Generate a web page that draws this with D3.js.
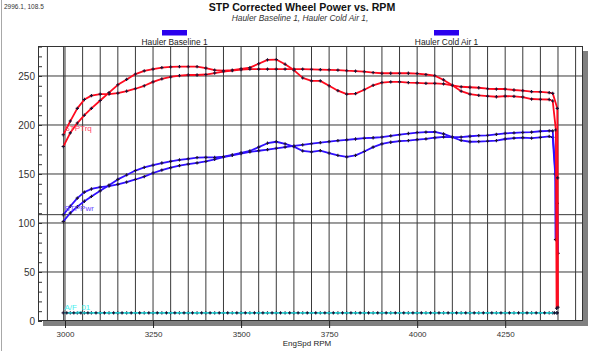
<!DOCTYPE html>
<html>
<head>
<meta charset="utf-8">
<script src="https://cdn.jsdelivr.net/npm/d3@7"></script>
<style>
  body { margin: 0; background: #fff; }
  svg { display: block; font-family: Arial, "Liberation Sans", sans-serif; }
  .grid line { stroke: #3a3a3a; stroke-width: 1; }
  .axis path { display: none; }
  .axis text { fill: #333; }
</style>
</head>
<body>
<script>
var w = 602;
var h = 351;

// engine speed of each logged sample (both runs)
var rpm = [2995, 3015, 3035, 3055, 3075,
  3100, 3125, 3150, 3175, 3200, 3225, 3250, 3275, 3300, 3325, 3350, 3375,
  3400, 3425, 3450, 3475, 3500, 3525, 3550, 3575, 3600, 3625, 3650, 3675,
  3700, 3725, 3750, 3775, 3800, 3825, 3850, 3875, 3900, 3925, 3950, 3975,
  4000, 4025, 4050, 4075, 4100, 4125, 4150, 4175, 4200, 4225, 4250, 4275,
  4300, 4325, 4350, 4375, 4385];

// Hauler Baseline 1
var trqA = [190, 204, 217, 226, 230,
  231.5, 231.5, 232.5, 234.5, 237, 240, 244, 247, 249, 250.3, 251, 251,
  251.5, 253, 254.5, 255.5, 256.5, 257, 257, 257, 257, 257, 257, 257,
  256.8, 256.5, 256.3, 256, 255.4, 255, 254.4, 253.5, 252.8, 252.8, 252.8, 252.8,
  252.5, 251.5, 250.3, 246, 240.5, 234.5, 231.5, 230.3, 229.5, 228.8, 229.5, 229.2,
  228.5, 226.5, 226.2, 226, 224.5];
var pwrA = [108.4, 117.1, 125.4, 131.5, 134.7,
  136.6, 137.7, 139.4, 141.8, 144.4, 147.4, 151.0, 154.0, 156.5, 158.5, 160.1, 161.3,
  162.8, 165.0, 167.2, 169.1, 170.9, 172.5, 173.7, 174.9, 176.2, 177.4, 178.6, 179.8,
  180.9, 181.9, 183.0, 184.0, 184.8, 185.7, 186.5, 187.0, 187.7, 188.9, 190.1, 191.3,
  192.3, 192.7, 193.0, 190.9, 187.7, 184.2, 182.9, 183.1, 183.5, 184.1, 185.7, 186.6,
  187.1, 186.5, 187.4, 188.3, 187.4];

// Hauler Cold Air 1
var trqB = [178, 192, 202, 210, 217,
  225, 233, 241, 246.5, 252, 255.2, 257, 258.5, 259.2, 259.5, 259.5, 259.5,
  258, 256, 255.4, 256, 257.3, 258.5, 262.5, 266.5, 266.8, 262, 256, 248,
  245, 245, 240, 235, 231.5, 232, 236, 240.5, 243.3, 244, 244, 243.3,
  243, 242.5, 242.5, 242, 240.5, 239, 238.5, 238, 237, 236.7, 236.7, 235.7,
  235, 234, 233.8, 233, 232.3];
var pwrB = [101.5, 110.2, 116.7, 122.2, 127.1,
  132.8, 138.6, 144.5, 149.0, 153.5, 156.7, 159.0, 161.2, 162.9, 164.3, 165.5, 166.8,
  167.0, 166.9, 167.8, 169.4, 171.5, 173.5, 177.4, 181.4, 182.9, 180.8, 177.9, 173.5,
  172.6, 173.8, 171.4, 168.9, 167.5, 169.0, 173.0, 177.4, 180.7, 182.4, 183.5, 184.1,
  185.1, 185.8, 187.0, 187.8, 187.7, 187.7, 188.5, 189.2, 189.5, 190.4, 191.5, 191.9,
  192.4, 192.7, 193.6, 194.1, 194.0];

// end of pull: speed hangs while the load drops off
var trqTailRpmA = [4394, 4396], trqTailA = [195, 13];
var trqTailRpmB = [4398, 4399, 4400], trqTailB = [217, 146, 14];
var pwrTailRpmA = [4392, 4393], pwrTailA = [150, 83];
var pwrTailRpmB = [4398, 4400], pwrTailB = [120, 69];

// A/F_01 trace, both runs
var afA = [8.3, 8.3, 8.3, 8.3, 8.3, 8.3, 8.3, 8.3, 8.3, 8.3, 8.3, 8.3, 8.3, 8.3, 8.3, 8.3, 8.3,
  8.3, 8.3, 8.3, 8.3, 8.3, 8.3, 8.3, 8.3, 8.3, 8.3, 8.3, 8.3, 8.3, 8.3, 8.3, 8.3, 8.3, 8.3,
  8.3, 8.3, 8.3, 8.3, 8.3, 8.3, 8.3, 8.3, 8.3, 8.3, 8.3, 8.3, 8.3, 8.3, 8.3, 8.3, 8.3, 8.3,
  8.3, 8.3, 8.3, 8.3, 8.3];
var afRpmB = [3005, 3025, 3045, 3065, 3088, 3112, 3138, 3162, 3188, 3212, 3238, 3262, 3288,
  3312, 3338, 3362, 3388, 3412, 3438, 3462, 3488, 3512, 3538, 3562, 3588, 3612, 3638, 3662,
  3688, 3712, 3738, 3762, 3788, 3812, 3838, 3862, 3888, 3912, 3938, 3962, 3988, 4012, 4038,
  4062, 4088, 4112, 4138, 4162, 4188, 4212, 4238, 4262, 4288, 4312, 4338, 4362, 4390, 4398];
var afB = [8.3, 8.3, 8.3, 8.3, 8.3, 8.3, 8.3, 8.3, 8.3, 8.3, 8.3, 8.3, 8.3, 8.3, 8.3, 8.3, 8.3,
  8.3, 8.3, 8.3, 8.3, 8.3, 8.3, 8.3, 8.3, 8.3, 8.3, 8.3, 8.3, 8.3, 8.3, 8.3, 8.3, 8.3, 8.3,
  8.3, 8.3, 8.3, 8.3, 8.3, 8.3, 8.3, 8.3, 8.3, 8.3, 8.3, 8.3, 8.3, 8.3, 8.3, 8.3, 8.3, 8.3,
  8.3, 8.3, 8.3, 8.3, 8.3];

var runs = ["Hauler Baseline 1", "Hauler Cold Air 1"];
var xTicks = [3000, 3250, 3500, 3750, 4000, 4250];
var yTicks = [0, 50, 100, 150, 200, 250];
var cursor = [2996.1, 108.5];

var red = "#ff0a1e", blue = "#3010ff", cyan = "#22e6e6";

var svg = d3.select("body").append("svg")
    .attr("width", w)
    .attr("height", h);

var pL = 38, pT = 46, pR = 583, pB = 321;

var x = d3.scaleLinear().domain([2923.3, 4471]).range([pL, pR]);
var y = d3.scaleLinear().domain([0, 280.6]).range([pB, pT]);

// window edge
svg.append("line")
    .attr("x1", 1.5).attr("x2", 1.5).attr("y1", 0).attr("y2", h)
    .attr("stroke", "#a8a8a8");

// cursor readout
svg.append("text")
    .attr("x", 4).attr("y", 8.5)
    .attr("font-size", 6.5)
    .attr("fill", "#333")
    .text(cursor[0].toFixed(1) + ", " + cursor[1].toFixed(1));

// title
svg.append("text")
    .attr("x", 302).attr("y", 11)
    .attr("text-anchor", "middle")
    .attr("font-size", 10.6)
    .attr("font-weight", "bold")
    .attr("fill", "#111")
    .text("STP Corrected Wheel Power vs. RPM");

svg.append("text")
    .attr("x", 300).attr("y", 20.5)
    .attr("text-anchor", "middle")
    .attr("font-size", 8.4)
    .attr("font-style", "italic")
    .attr("fill", "#333")
    .text(runs.join(", ") + ",");

// legend
var legX = [174.5, 446.5];
runs.forEach(function(r, i) {
  svg.append("rect")
      .attr("x", legX[i] - 12.5).attr("y", 30)
      .attr("width", 25).attr("height", 5.5)
      .attr("fill", "#2a00ee");
  svg.append("text")
      .attr("x", legX[i]).attr("y", 44.5)
      .attr("text-anchor", "middle")
      .attr("font-size", 8.4)
      .attr("fill", "#222")
      .text(r);
});

// frame shadow
svg.append("rect")
    .attr("x", pL + 5).attr("y", pT + 5)
    .attr("width", pR - pL).attr("height", pB - pT)
    .attr("fill", "#808080");

svg.append("rect")
    .attr("x", pL).attr("y", pT)
    .attr("width", pR - pL).attr("height", pB - pT)
    .attr("fill", "#fff");

// grid
var grid = svg.append("g").attr("class", "grid");
grid.selectAll(".v")
    .data(d3.range(2950, 4451, 50))
  .enter().append("line")
    .attr("x1", function(d) { return x(d); })
    .attr("x2", function(d) { return x(d); })
    .attr("y1", pT).attr("y2", pB);

grid.selectAll(".hz")
    .data(yTicks.slice(1))
  .enter().append("line")
    .attr("x1", pL).attr("x2", pR)
    .attr("y1", function(d) { return y(d); })
    .attr("y2", function(d) { return y(d); });

// cursor crosshair
grid.append("line")
    .attr("x1", x(cursor[0])).attr("x2", x(cursor[0]))
    .attr("y1", pT).attr("y2", pB);
grid.append("line")
    .attr("x1", pL).attr("x2", pR)
    .attr("y1", y(cursor[1])).attr("y2", y(cursor[1]));

// y axis: minor ticks inside the frame, labels outside
svg.append("g")
    .attr("class", "axis")
    .attr("transform", "translate(" + pL + ",0)")
    .call(d3.axisRight(y).tickValues(d3.range(0, 281, 10)).tickSize(4).tickFormat(""))
    .selectAll("line").attr("stroke", "#333");

svg.append("g")
    .attr("class", "axis")
    .attr("transform", "translate(" + pL + ",0)")
    .call(d3.axisLeft(y).tickValues(yTicks).tickSize(0).tickPadding(3))
    .selectAll("text").attr("font-size", 10).attr("font-family", "Arial, 'Liberation Sans', sans-serif");

// x axis
var xa = svg.append("g")
    .attr("class", "axis")
    .attr("transform", "translate(0," + pB + ")")
    .call(d3.axisBottom(x).tickValues(xTicks).tickSize(7).tickPadding(3).tickFormat(d3.format("d")));
xa.selectAll("line").attr("stroke", "#222");
xa.selectAll("text").attr("font-size", 8).attr("font-family", "Arial, 'Liberation Sans', sans-serif");

svg.append("text")
    .attr("x", 307).attr("y", 346)
    .attr("text-anchor", "middle")
    .attr("font-size", 8)
    .attr("fill", "#222")
    .text("EngSpd  RPM");

// frame border
svg.append("rect")
    .attr("x", pL + 0.5).attr("y", pT + 0.5)
    .attr("width", pR - pL - 1).attr("height", pB - pT - 1)
    .attr("fill", "none")
    .attr("stroke", "#333");

// traces
var line = d3.line()
    .x(function(d) { return x(d[0]); })
    .y(function(d) { return y(d[1]); });

var cross = d3.symbol().type(d3.symbolCross).size(6);

function trace(rs, vs, color, width) {
  var pts = rs.map(function(r, i) { return [r, vs[i]]; });
  svg.append("path")
      .datum(pts)
      .attr("fill", "none")
      .attr("stroke", color)
      .attr("stroke-width", width)
      .attr("stroke-linejoin", "round")
      .attr("d", line);
  svg.append("g").selectAll("path")
      .data(pts)
    .enter().append("path")
      .attr("transform", function(d) { return "translate(" + x(d[0]) + "," + y(d[1]) + ")"; })
      .attr("d", cross)
      .attr("fill", "#1a1030");
}

trace(rpm.concat([4396]), afA.concat([8.3]), cyan, 1.3);
trace(afRpmB, afB, cyan, 1.3);
trace(rpm.concat(pwrTailRpmA), pwrA.concat(pwrTailA), blue, 1.8);
trace(rpm.concat(pwrTailRpmB), pwrB.concat(pwrTailB), blue, 1.8);
trace(rpm.concat(trqTailRpmA), trqA.concat(trqTailA), red, 1.8);
trace(rpm.concat(trqTailRpmB), trqB.concat(trqTailB), red, 1.8);

// channel labels
var labels = [["STPTrq", 194, "#ff4060"], ["STPPwr", 112, "#6a48ff"], ["A/F_01", 11, "#44eeee"]];
labels.forEach(function(l) {
  svg.append("text")
      .attr("x", 64.5).attr("y", y(l[1]))
      .attr("font-size", 8)
      .attr("fill", l[2])
      .text(l[0]);
});
</script>
</body>
</html>
